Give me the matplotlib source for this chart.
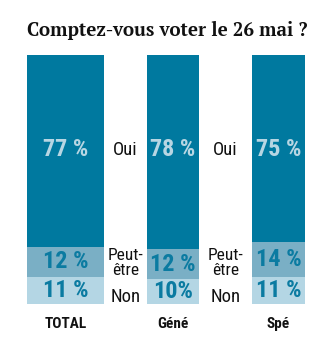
import matplotlib.pyplot as plt

groups = ["TOTAL", "Géné", "Spé"]
oui = [77, 78, 75]
peut_etre = [12, 12, 14]
non = [11, 10, 11]
oui_lbl = ["77 %", "78 %", "75 %"]
peut_lbl = ["12 %", "12 %", "14 %"]
non_lbl = ["11 %", "10%", "11 %"]

dark = "#00799f"
mid = "#7aafc5"
light = "#b4d6e4"
txt_dark = "#0b7ba1"
txt_light = "#b7d6e3"
narrow = ["Roboto Condensed", "DejaVu Sans"]

fig = plt.figure(figsize=(3.32, 3.5), dpi=100)
ax = fig.add_axes([0, 46 / 350, 1, 249 / 350])
ax.set_xlim(0, 332)
ax.set_ylim(0, 100)
ax.axis("off")

xs = [65.5, 173, 278.5]
widths = [77, 52, 53]

ax.bar(xs, non, width=widths, color=light)
ax.bar(xs, peut_etre, width=widths, bottom=non, color=mid)
bot2 = [a + b for a, b in zip(non, peut_etre)]
ax.bar(xs, oui, width=widths, bottom=bot2, color=dark)

for i, x in enumerate(xs):
    ax.text(x, non[i] / 2, non_lbl[i], ha="center", va="center",
            fontsize=17.5, fontweight="bold", color=txt_dark, family=narrow)
    ax.text(x, non[i] + peut_etre[i] / 2, peut_lbl[i], ha="center", va="center",
            fontsize=17.5, fontweight="bold", color=txt_dark, family=narrow)
    ax.text(x, 62, oui_lbl[i], ha="center", va="center",
            fontsize=17.5, fontweight="bold", color=txt_light, family=narrow)
    ax.text(x, -8, groups[i], ha="center", va="center",
            fontsize=11, fontweight="bold", color="#111111", family=narrow)

for x in [125.5, 225.5]:
    ax.text(x, 62, "Oui", ha="center", va="center", fontsize=13.5,
            color="#111111", family=narrow)
    ax.text(x, 16.5, "Peut-\nêtre", ha="center", va="center", fontsize=12.5,
            color="#111111", family=narrow, linespacing=1.0)
    ax.text(x, 2.8, "Non", ha="center", va="center", fontsize=13.5,
            color="#111111", family=narrow)

fig.text(167, 350 - 30, "Comptez-vous voter le 26 mai ?", transform=None,
         ha="center", va="center", fontsize=13.5, fontweight="bold",
         color="#111111", family=["PT Serif", "DejaVu Serif"])

fig.savefig("out.png", dpi=100)
